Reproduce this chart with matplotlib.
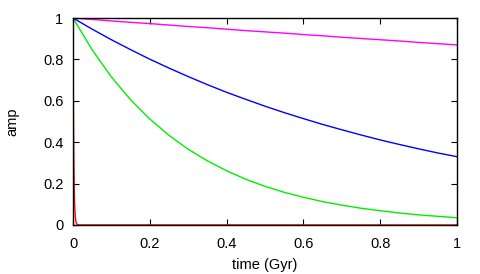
import matplotlib
matplotlib.use("Agg")
import matplotlib.pyplot as plt
from matplotlib.ticker import FormatStrFormatter

plt.rcParams['font.family'] = ['Liberation Sans', 'DejaVu Sans']

# time grid (Gyr) for the slow curves
t = [0.0, 0.05, 0.1, 0.15, 0.2, 0.25, 0.3, 0.35, 0.4, 0.45, 0.5,
     0.55, 0.6, 0.65, 0.7, 0.75, 0.8, 0.85, 0.9, 0.95, 1.0]

amp_magenta = [1.0, 0.993, 0.986, 0.979, 0.973, 0.966, 0.959, 0.953, 0.946, 0.939, 0.933,
               0.927, 0.920, 0.914, 0.907, 0.901, 0.895, 0.889, 0.882, 0.876, 0.870]
amp_blue = [1.0, 0.946, 0.895, 0.847, 0.801, 0.758, 0.717, 0.678, 0.641, 0.607, 0.574,
            0.543, 0.514, 0.486, 0.460, 0.435, 0.411, 0.389, 0.368, 0.348, 0.330]
amp_green = [1.0, 0.846, 0.715, 0.605, 0.512, 0.433, 0.366, 0.310, 0.262, 0.221, 0.187,
             0.158, 0.134, 0.113, 0.096, 0.081, 0.069, 0.058, 0.049, 0.042, 0.035]

# fast decaying curve
t_red = [0.0, 0.001, 0.002, 0.003, 0.004, 0.006, 0.008, 0.01, 0.015, 1.0]
amp_red = [1.0, 0.577, 0.333, 0.192, 0.111, 0.037, 0.012, 0.004, 0.0003, 0.0]

fig = plt.figure(figsize=(4.8, 2.74), dpi=100)
ax = fig.add_axes([73 / 480, 1 - 225 / 274, 384 / 480, 207 / 274])

ax.plot(t_red, amp_red, color='#ff0000', lw=1)
ax.plot(t, amp_green, color='#00ee00', lw=1)
ax.plot(t, amp_blue, color='#0000ff', lw=1)
ax.plot(t, amp_magenta, color='#ff00ff', lw=1)

ax.set_xlim(0, 1)
ax.set_ylim(0, 1)
ax.set_xticks([0, 0.2, 0.4, 0.6, 0.8, 1])
ax.set_yticks([0, 0.2, 0.4, 0.6, 0.8, 1])
ax.xaxis.set_major_formatter(FormatStrFormatter('%g'))
ax.yaxis.set_major_formatter(FormatStrFormatter('%g'))
ax.tick_params(direction='in', top=True, right=True, length=4, width=0.8,
               labelsize=10.5)
ax.tick_params(axis='y', pad=7)
ax.tick_params(axis='x', pad=8.5)
for s in ax.spines.values():
    s.set_linewidth(1)

ax.set_xlabel('time (Gyr)', fontsize=10.5, va='center')
ax.set_ylabel('amp', fontsize=10.5, va='center')
ax.xaxis.set_label_coords(0.5, (225 - 265) / 207)
ax.yaxis.set_label_coords((12 - 73) / 384, 0.5)

fig.savefig('out.png', dpi=100)
